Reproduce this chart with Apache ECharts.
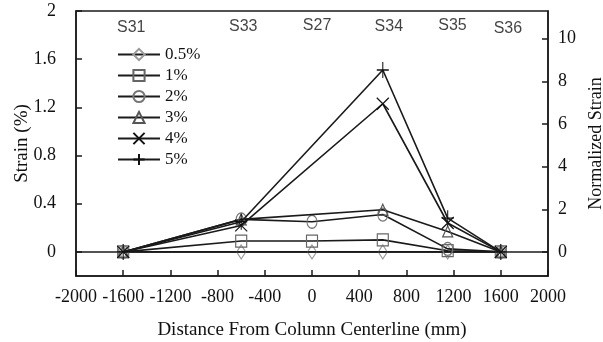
<!DOCTYPE html>
<html>
<head>
<meta charset="utf-8">
<script src="https://cdn.jsdelivr.net/npm/echarts@6/dist/echarts.min.js"></script>
<style>
  html, body { margin: 0; padding: 0; background: #fff; }
  #chart { width: 603px; height: 342px; }
</style>
</head>
<body>
<div id="chart"></div>
<script>
// distance from column centerline (mm) for each gauge
var xPos = [-1600, -600, 0, 600, 1150, 1600];
// strain (%) per drift level, null = no reading
var s05 = [0, 0, 0, 0, 0, 0];
var s1 = [0, 0.09, 0.09, 0.1, 0.01, 0];
var s2 = [0, 0.27, 0.25, 0.31, 0.025, 0];
var s3 = [0, 0.27, null, 0.35, 0.17, 0];
var s4 = [0, 0.22, null, 1.23, 0.24, 0];
var s5 = [0, 0.25, null, 1.51, 0.28, 0];
var seriesNames = ['0.5%', '1%', '2%', '3%', '4%', '5%'];

// gauge names above the plot
var gaugeNames = ['S31', 'S33', 'S27', 'S34', 'S35', 'S36'];
var gaugeLabelX = [-1532, -583, 43, 651, 1191, 1660];
var gaugeLabelY = [1.86, 1.87, 1.88, 1.87, 1.88, 1.85];

var leftTicks = [0, 0.4, 0.8, 1.2, 1.6, 2];
var rightTicks = [0, 2, 4, 6, 8, 10];

var serif = 'Liberation Serif';

function pairs(vals) {
  return xPos.map(function (x, i) { return [x, vals[i]]; });
}

var symbols = [
  { symbol: 'diamond', size: [9, 14], color: '#999' },
  { symbol: 'rect', size: [11, 12], color: '#666' },
  { symbol: 'circle', size: [10, 13], color: '#777' },
  { symbol: 'triangle', size: [10, 11], color: '#555' },
  { symbol: 'path://M0,0L10,10M10,0L0,10', size: [12, 12], color: '#111' },
  { symbol: 'path://M5,0L5,14M0,7L10,7', size: [12, 16], color: '#111' }
];
var allData = [s05, s1, s2, s3, s4, s5];

var series = allData.map(function (vals, i) {
  var s = {
    name: seriesNames[i],
    type: 'line',
    yAxisIndex: 0,
    data: pairs(vals),
    connectNulls: true,
    symbol: symbols[i].symbol,
    symbolSize: symbols[i].size,
    showAllSymbol: true,
    z: 3 + i,
    lineStyle: { color: '#1a1a1a', width: 1.6 },
    itemStyle: { color: 'rgba(255,255,255,0)', borderColor: symbols[i].color, borderWidth: 1.2 }
  };
  if (i === 0) {
    s.markLine = {
      silent: true,
      symbol: 'none',
      label: { show: false },
      lineStyle: { color: '#1a1a1a', width: 1.5, type: 'solid' },
      data: [{ yAxis: 0 }]
    };
  }
  return s;
});

series.push({
  name: 'gauges',
  type: 'scatter',
  silent: true,
  symbolSize: 0,
  data: gaugeNames.map(function (n, i) { return { name: n, value: [gaugeLabelX[i], gaugeLabelY[i]] }; }),
  label: {
    show: true,
    position: 'inside',
    formatter: '{b}',
    fontFamily: 'Liberation Sans',
    fontSize: 16,
    color: '#111'
  }
});

var chart = echarts.init(document.getElementById('chart'));
chart.setOption({
  animation: false,
  backgroundColor: '#fff',
  grid: {
    left: 76, right: 55, top: 11, bottom: 66,
    outerBoundsMode: 'none',
    containLabel: false,
    show: true, borderColor: '#1a1a1a', borderWidth: 1.5, backgroundColor: 'transparent'
  },
  legend: {
    data: seriesNames,
    orient: 'vertical',
    left: 112,
    top: 41,
    itemWidth: 42,
    itemHeight: 14,
    itemGap: 4,
    textStyle: { fontFamily: serif, fontSize: 17, color: '#111' }
  },
  xAxis: {
    type: 'value',
    min: -2000,
    max: 2000,
    interval: 400,
    name: 'Distance From Column Centerline (mm)',
    nameLocation: 'middle',
    nameGap: 45,
    nameTextStyle: { fontFamily: serif, fontSize: 19, color: '#111' },
    axisLine: { onZero: false, lineStyle: { color: '#1a1a1a', width: 1.5 } },
    axisTick: { inside: true, length: 6, lineStyle: { color: '#1a1a1a', width: 1.5 } },
    axisLabel: {
      fontFamily: serif, fontSize: 18, color: '#111', margin: 12, hideOverlap: false,
      formatter: function (v) { return String(v); }
    },
    splitLine: { show: false }
  },
  yAxis: [{
    type: 'value',
    min: -0.2,
    max: 2,
    name: 'Strain (%)',
    nameLocation: 'middle',
    nameGap: 44,
    nameMoveOverlap: false,
    nameTextStyle: { fontFamily: serif, fontSize: 19, color: '#111' },
    axisLine: { show: true, onZero: false, lineStyle: { color: '#1a1a1a', width: 1.5 } },
    axisTick: { show: true, inside: true, length: 6, customValues: leftTicks, lineStyle: { color: '#1a1a1a', width: 1.5 } },
    axisLabel: { fontFamily: serif, fontSize: 18, color: '#111', margin: 20, customValues: leftTicks },
    splitLine: { show: false }
  }, {
    type: 'value',
    position: 'right',
    min: -1.13,
    max: 11.3,
    name: 'Normalized Strain',
    nameLocation: 'middle',
    nameGap: 39,
    nameRotate: 90,
    nameTextStyle: { fontFamily: serif, fontSize: 18, color: '#111' },
    axisLine: { show: true, onZero: false, lineStyle: { color: '#1a1a1a', width: 1.5 } },
    axisTick: { show: true, inside: true, length: 6, customValues: rightTicks, lineStyle: { color: '#1a1a1a', width: 1.5 } },
    axisLabel: { fontFamily: serif, fontSize: 18, color: '#111', margin: 10, customValues: rightTicks },
    splitLine: { show: false }
  }],
  series: series
});
</script>
</body>
</html>
